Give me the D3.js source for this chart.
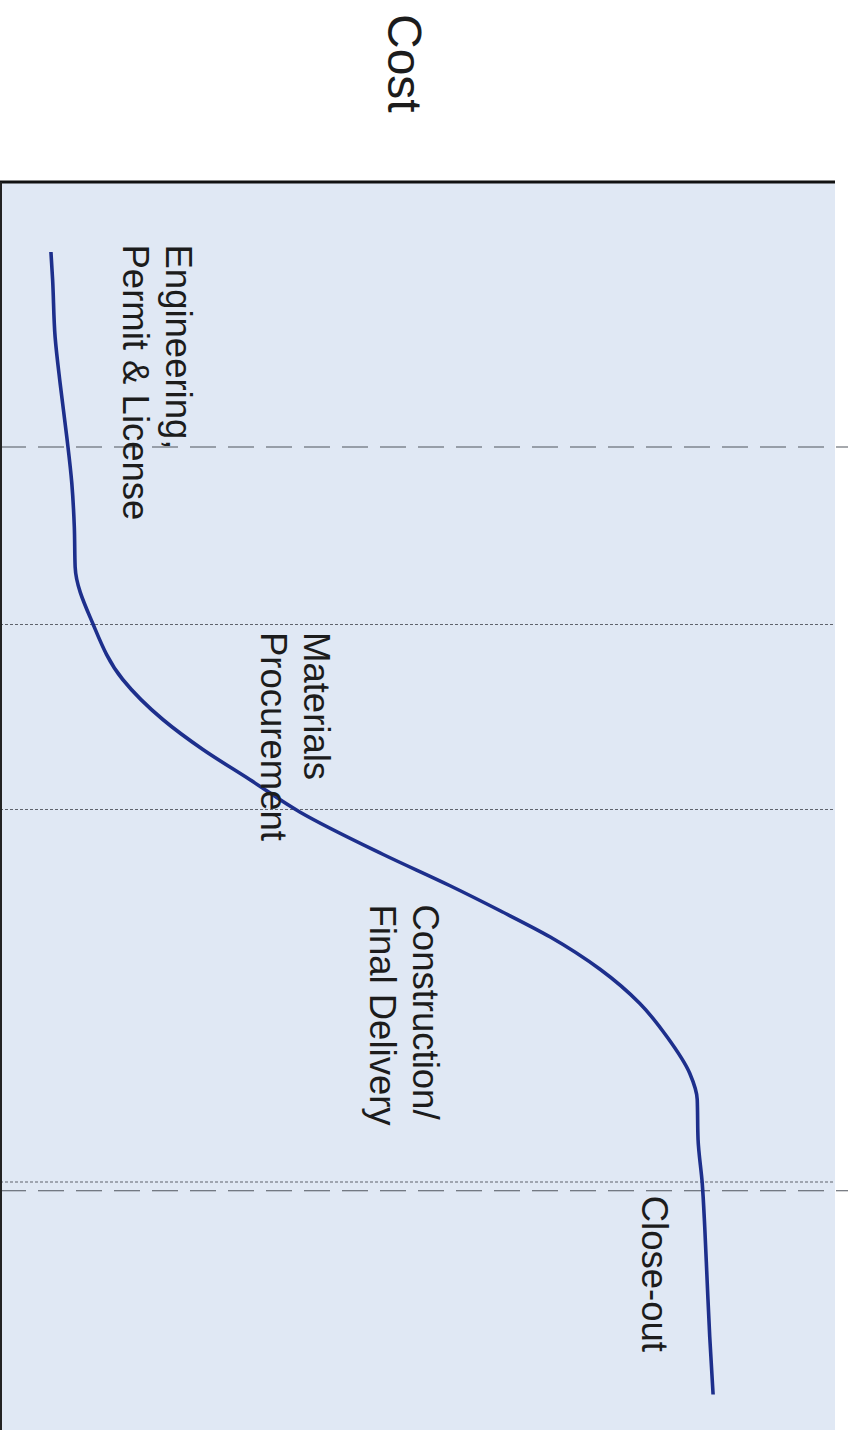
<!DOCTYPE html>
<html>
<head>
<meta charset="utf-8">
<script src="https://cdn.jsdelivr.net/npm/d3@7"></script>
<style>
  html, body { margin: 0; padding: 0; background: #ffffff; }
  svg { display: block; }
  text { font-family: "Liberation Sans", Arial, sans-serif; fill: #1c1c1c; }
</style>
</head>
<body>
<svg id="chart" width="848" height="1436"></svg>
<script>
// Project time (0-100 % of schedule) and cumulative cost (0-100 %)
const timePts = [5.6, 7.8, 12.4, 16.1, 20.4, 24.1, 27.6, 30.8, 35.3, 39.8, 43.0, 45.4, 47.8,
                 50.4, 53.8, 56.3, 58.3, 60.4, 63.0, 65.7, 68.4, 71.3, 73.4, 76.6, 80.1,
                 83.6, 88.1, 92.4, 97.0];
const costPts = [6.1, 6.3, 6.6, 7.2, 8.0, 8.6, 8.9, 9.0, 11.1, 14.7, 19.5, 24.3, 29.9,
                 35.9, 45.9, 53.9, 59.9, 65.9, 71.9, 76.6, 79.9, 82.6, 83.5, 83.6, 84.1,
                 84.4, 84.7, 85.0, 85.4];

// Phase boundaries on the time axis
const dottedBounds = [35.4, 50.2, 80.0];
const dashedBounds = [21.2, 80.7];

// Phase labels: lines of text and the time where each label starts
const phaseLabels = [
  ["Engineering,", "Permit & License"],
  ["Materials", "Procurement"],
  ["Construction/", "Final Delivery"],
  ["Close-out"]
];
const labelStart = [5.0, 36.0, 57.8, 81.1];
const labelCost = [19.9, 36.4, 49.5, 76.9];
const axisTitle = "Cost";

const svg = d3.select("#chart");

// The chart is drawn turned a quarter clockwise: time runs down the page,
// cost grows to the right.
const plotTop = 182, plotBottom = 1432, plotLeft = 0, plotRight = 835;
const t = d3.scaleLinear().domain([0, 100]).range([plotTop, plotBottom]);
const c = d3.scaleLinear().domain([0, 100]).range([plotLeft, plotRight]);

// plot background
svg.append("rect")
  .attr("x", plotLeft).attr("y", plotTop)
  .attr("width", plotRight - plotLeft).attr("height", 1430 - plotTop)
  .attr("fill", "#e0e8f4");

// phase boundaries
svg.append("g").selectAll("line").data(dottedBounds).join("line")
  .attr("x1", plotLeft).attr("x2", plotRight)
  .attr("y1", d => t(d)).attr("y2", d => t(d))
  .attr("stroke", "#5f636c").attr("stroke-width", 1.2)
  .attr("stroke-dasharray", "3,2");

svg.append("g").selectAll("line").data(dashedBounds).join("line")
  .attr("x1", plotLeft).attr("x2", 848)
  .attr("y1", d => t(d)).attr("y2", d => t(d))
  .attr("stroke", "#4f545d").attr("stroke-width", 1.2)
  .attr("stroke-dasharray", "26,12");

// axes: cost axis across the top, time axis down the left edge
svg.append("line")
  .attr("x1", plotLeft).attr("x2", plotRight)
  .attr("y1", plotTop).attr("y2", plotTop)
  .attr("stroke", "#111").attr("stroke-width", 3);
svg.append("line")
  .attr("x1", 1).attr("x2", 1)
  .attr("y1", plotTop).attr("y2", 1430)
  .attr("stroke", "#222").attr("stroke-width", 2);

// cumulative cost curve
const pts = timePts.map((d, i) => ({ time: d, cost: costPts[i] }));
const line = d3.line()
  .x(d => c(d.cost))
  .y(d => t(d.time))
  .curve(d3.curveMonotoneY);
svg.append("path")
  .datum(pts)
  .attr("d", line)
  .attr("fill", "none")
  .attr("stroke", "#1d2f8c")
  .attr("stroke-width", 3.6)
  .attr("stroke-linejoin", "round");

// phase labels, rotated to read down the page
const lineGap = 43;
phaseLabels.forEach((lines, i) => {
  lines.forEach((txt, j) => {
    const x = c(labelCost[i]) - j * lineGap;
    const y = t(labelStart[i]);
    svg.append("text")
      .attr("transform", `translate(${x},${y}) rotate(90)`)
      .attr("font-size", 36.5)
      .text(txt);
  });
});

// axis title
svg.append("text")
  .attr("transform", `translate(388,14) rotate(90)`)
  .attr("font-size", 48)
  .text(axisTitle);
</script>
</body>
</html>
